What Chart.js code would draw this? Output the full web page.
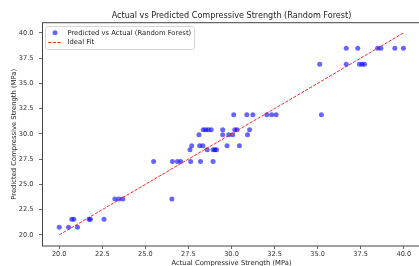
<!DOCTYPE html>
<html>
<head>
<meta charset="utf-8">
<script src="https://cdn.jsdelivr.net/npm/chart.js@4/dist/chart.umd.min.js"></script>
<style>
  html, body { margin: 0; padding: 0; background: #fff; overflow: hidden; }
  #wrap { width: 425px; height: 268px; }
</style>
</head>
<body>
<div id="wrap"><canvas id="chart"></canvas></div>
<script>
const actualValues = [
  20.0, 20.54, 20.73, 20.85, 21.06, 21.73, 21.81, 22.6, 23.23, 23.46,
  23.69, 25.48, 26.54, 26.57, 26.86, 27.05, 27.63, 28.2, 28.93, 27.59,
  27.69, 28.15, 28.34, 28.11, 28.36, 28.5, 28.65, 28.82, 28.59, 28.93,
  29.03, 29.13, 29.49, 29.49, 29.74, 29.84, 30.07, 30.19, 30.32, 30.46,
  30.93, 31.05, 30.13, 30.89, 31.24, 32.05, 32.33, 32.59, 35.22, 35.12,
  36.66, 37.43, 37.58, 37.72, 36.66, 37.33, 38.48, 38.67, 39.48, 39.98
];
const predictedValues = [
  20.75, 20.75, 21.55, 21.55, 20.75, 21.55, 21.55, 21.55, 23.56, 23.56,
  23.56, 27.26, 23.56, 27.26, 27.26, 27.26, 27.26, 27.26, 27.26, 28.42,
  28.81, 28.81, 28.81, 29.9, 30.4, 30.4, 30.4, 30.4, 28.42, 28.42,
  28.42, 28.42, 30.4, 29.9, 28.81, 29.9, 29.9, 30.4, 30.4, 28.81,
  29.9, 30.4, 31.88, 31.88, 31.88, 31.88, 31.88, 31.88, 31.88, 36.9,
  36.9, 36.9, 36.9, 36.9, 38.48, 38.48, 38.48, 38.48, 38.48, 38.48
];
const fitRange = [20, 40];
const xTickValues = [20, 22.5, 25, 27.5, 30, 32.5, 35, 37.5, 40];
const yTickValues = [20, 22.5, 25, 27.5, 30, 32.5, 35, 37.5, 40];

const chartTitle = 'Actual vs Predicted Compressive Strength (Random Forest)';
const font = 'DejaVu Sans';

const scatterPoints = actualValues.map((a, i) => ({ x: a, y: predictedValues[i] }));
const fitPoints = fitRange.map(v => ({ x: v, y: v }));

// frame, title and the in-axes legend, drawn like matplotlib does
const extrasPlugin = {
  id: 'extras',
  afterDraw(chart) {
    const { ctx, chartArea: a } = chart;
    ctx.save();
    ctx.strokeStyle = '#444';
    ctx.lineWidth = 1;
    ctx.strokeRect(a.left + 0.5, a.top, a.right - a.left - 0.5, a.bottom - a.top);

    ctx.fillStyle = '#222';
    ctx.font = '8.1px "' + font + '"';
    ctx.textAlign = 'center';
    ctx.textBaseline = 'middle';
    ctx.fillText(chartTitle, (a.left + a.right) / 2, 15.7);

    // legend box
    const bx = 45, by = 26, bw = 149, bh = 23;
    ctx.beginPath();
    ctx.roundRect(bx + 0.5, by + 0.5, bw, bh, 2);
    ctx.fillStyle = 'rgba(255,255,255,0.8)';
    ctx.fill();
    ctx.strokeStyle = '#d6d6d6';
    ctx.stroke();

    const ds = chart.data.datasets;
    const scatter = ds.find(d => d.type === 'scatter');
    const line = ds.find(d => d.type === 'line');
    ctx.beginPath();
    ctx.arc(55, 32.7, scatter.pointRadius, 0, Math.PI * 2);
    ctx.fillStyle = scatter.backgroundColor;
    ctx.fill();

    ctx.beginPath();
    ctx.setLineDash(line.borderDash);
    ctx.strokeStyle = line.borderColor;
    ctx.lineWidth = line.borderWidth;
    ctx.moveTo(48.3, 42.5);
    ctx.lineTo(61.7, 42.5);
    ctx.stroke();
    ctx.setLineDash([]);

    ctx.fillStyle = '#222';
    ctx.font = '6.8px "' + font + '"';
    ctx.textAlign = 'left';
    ctx.fillText(scatter.label, 67.5, 32.9);
    ctx.fillText(line.label, 67.5, 42.5);
    ctx.restore();
  }
};

new Chart(document.getElementById('chart'), {
  data: {
    datasets: [
      {
        type: 'line',
        label: 'Ideal Fit',
        data: fitPoints,
        borderColor: 'rgba(255, 0, 0, 0.85)',
        borderWidth: 1,
        borderDash: [3.2, 1.4],
        pointRadius: 0,
        fill: false,
        order: 0
      },
      {
        type: 'scatter',
        label: 'Predicted vs Actual (Random Forest)',
        data: scatterPoints,
        backgroundColor: 'rgba(0, 0, 255, 0.6)',
        borderWidth: 0,
        pointRadius: 2.5,
        order: 1
      }
    ]
  },
  options: {
    responsive: true,
    maintainAspectRatio: false,
    devicePixelRatio: 1,
    animation: false,
    layout: { padding: { top: 22.7, right: 1.6, left: 0, bottom: 0 } },
    plugins: {
      legend: { display: false },
      title: { display: false },
      tooltip: { enabled: false }
    },
    scales: {
      x: {
        type: 'linear',
        min: 19,
        max: 41,
        afterFit: s => { s.height = 22; },
        afterBuildTicks: s => { s.ticks = xTickValues.map(v => ({ value: v })); },
        grid: { display: true, drawOnChartArea: false, drawTicks: true, tickLength: 3, color: '#444', lineWidth: 0.8 },
        border: { display: false },
        ticks: {
          padding: 1,
          color: '#333',
          font: { family: font, size: 6.6 },
          maxRotation: 0,
          callback: v => v.toFixed(1)
        },
        title: {
          display: true,
          text: 'Actual Compressive Strength (MPa)',
          color: '#222',
          font: { family: font, size: 6.8 },
          padding: { top: 0, bottom: 0.6 }
        }
      },
      y: {
        type: 'linear',
        min: 18.9,
        max: 41,
        afterFit: s => { s.width = 42; },
        afterBuildTicks: s => { s.ticks = yTickValues.map(v => ({ value: v })); },
        grid: { display: true, drawOnChartArea: false, drawTicks: true, tickLength: 3, color: '#444', lineWidth: 0.8 },
        border: { display: false },
        ticks: {
          padding: 5.5,
          color: '#333',
          font: { family: font, size: 6.6 },
          callback: v => v.toFixed(1)
        },
        title: {
          display: true,
          text: 'Predicted Compressive Strength (MPa)',
          color: '#222',
          font: { family: font, size: 6.8 },
          padding: { top: 10.2, bottom: 0 }
        }
      }
    }
  },
  plugins: [extrasPlugin]
});
</script>
</body>
</html>
